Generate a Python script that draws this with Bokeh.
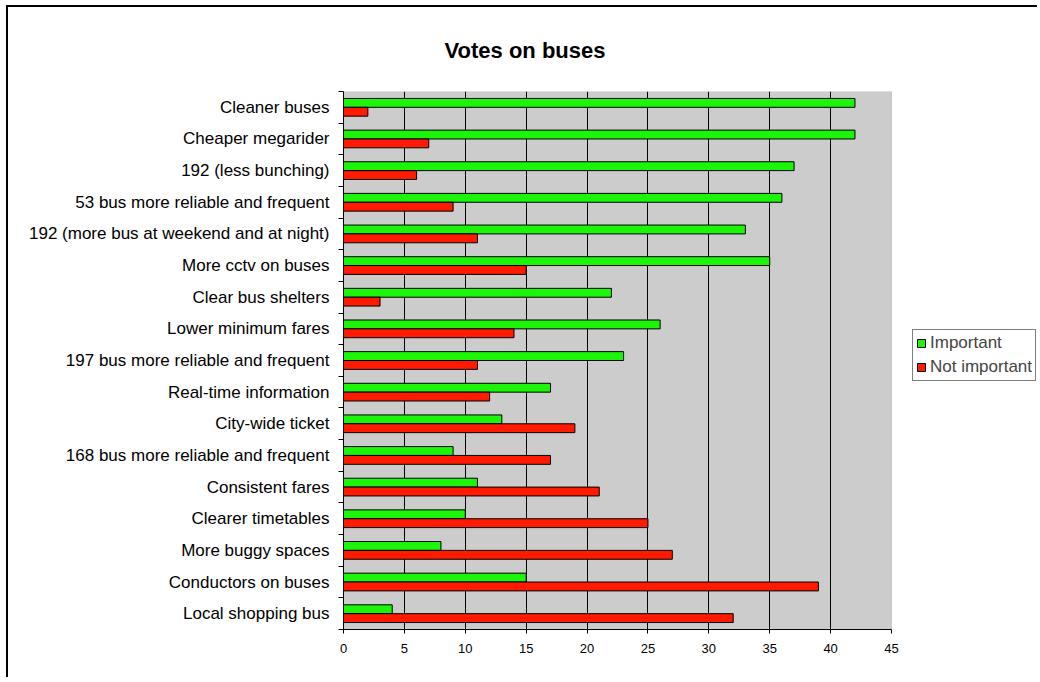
from bokeh.plotting import figure
from bokeh.models import (ColumnDataSource, FixedTicker, Legend, LegendItem,
                          BoxAnnotation)
from bokeh.embed import file_html
from bokeh.resources import INLINE

categories = ["Cleaner buses", "Cheaper megarider", "192 (less bunching)",
              "53 bus more reliable and frequent",
              "192 (more bus at weekend and at night)", "More cctv on buses",
              "Clear bus shelters", "Lower minimum fares",
              "197 bus more reliable and frequent", "Real-time information",
              "City-wide ticket", "168 bus more reliable and frequent",
              "Consistent fares", "Clearer timetables", "More buggy spaces",
              "Conductors on buses", "Local shopping bus"]
important = [42, 42, 37, 36, 33, 35, 22, 26, 23, 17, 13, 9, 11, 10, 8, 15, 4]
not_important = [2, 7, 6, 9, 11, 15, 3, 14, 11, 12, 19, 17, 21, 25, 27, 39, 32]
x_ticks = [0, 5, 10, 15, 20, 25, 30, 35, 40, 45]
series_names = ["Important", "Not important"]
title_text = "Votes on buses"

n = len(categories)
x_max = x_ticks[-1]
centers = [n - i - 0.5 for i in range(n)]
bar_h = 0.28

src = ColumnDataSource(dict(
    cat=categories,
    yi=[c + bar_h / 2 for c in centers],
    yn=[c - bar_h / 2 for c in centers],
    imp=important,
    nimp=not_important,
))

FONT = "Liberation Sans"

# layout (pixels)
W, H = 1031, 672
LEFT, TOP, BOTTOM, RIGHT = 335, 84, 50, 0
AXIS_PX = 548                      # pixel length of the 0..x_max value axis
frame_w = W - LEFT - RIGHT
x_end = x_max * frame_w / AXIS_PX  # frame extends right to hold the legend

p = figure(width=W, height=H, x_range=(0, x_end), y_range=(0, n),
           output_backend="svg", toolbar_location=None,
           min_border_left=LEFT, min_border_right=RIGHT,
           min_border_top=TOP, min_border_bottom=BOTTOM,
           background_fill_color="white", border_fill_color="white")
p.styles = {"margin-left": "6px", "margin-top": "5px",
            "border-left": "2px solid black", "border-top": "2px solid black"}
p.outline_line_color = None

# grey plot area for the value axis
p.add_layout(BoxAnnotation(left=0, right=x_max, bottom=0, top=n,
                           fill_color="#CCCCCC", fill_alpha=1,
                           line_color="#808080", line_width=1,
                           level="image"))

p.title.text = title_text
p.title.align = "left"
p.title.offset = 101
p.title.text_font = FONT
p.title.text_font_size = "22px"
p.title.text_font_style = "bold"
p.title.text_color = "black"
p.title.standoff = 57

g = p.hbar(y="yi", right="imp", left=0, height=bar_h, source=src,
           fill_color="#1CF50A", line_color="black", line_width=1)
r = p.hbar(y="yn", right="nimp", left=0, height=bar_h, source=src,
           fill_color="#FF1A00", line_color="black", line_width=1)

# x axis
p.xaxis.ticker = FixedTicker(ticks=x_ticks)
p.xaxis.bounds = (0, x_max)
p.xaxis.minor_tick_line_color = None
p.xaxis.major_tick_out = 4
p.xaxis.major_tick_in = 0
p.xaxis.axis_line_color = "black"
p.xaxis.major_tick_line_color = "black"
p.xaxis.major_label_text_font = FONT
p.xaxis.major_label_text_font_size = "13px"
p.xaxis.major_label_text_color = "black"
p.xaxis.major_label_standoff = 10

# y axis: labels at centers, ticks at boundaries
p.yaxis.ticker = FixedTicker(ticks=centers, minor_ticks=list(range(n + 1)))
p.yaxis.major_label_overrides = {c: cat for c, cat in zip(centers, categories)}
p.yaxis.major_tick_line_color = None
p.yaxis.major_tick_out = 0
p.yaxis.major_tick_in = 0
p.yaxis.minor_tick_line_color = "black"
p.yaxis.minor_tick_out = 5
p.yaxis.minor_tick_in = 0
p.yaxis.axis_line_color = "black"
p.yaxis.major_label_text_font = FONT
p.yaxis.major_label_text_font_size = "17px"
p.yaxis.major_label_text_color = "black"
p.yaxis.major_label_standoff = 9

p.xgrid.ticker = FixedTicker(ticks=x_ticks[:-1])
p.xgrid.grid_line_color = "black"
p.xgrid.grid_line_width = 1
p.ygrid.grid_line_color = None

legend = Legend(items=[LegendItem(label=series_names[0], renderers=[g]),
                       LegendItem(label=series_names[1], renderers=[r])],
                location=(569, 248))
legend.glyph_width = 10
legend.glyph_height = 10
legend.label_text_font = FONT
legend.label_text_font_size = "17px"
legend.label_standoff = 4
legend.label_height = 18
legend.spacing = 4
legend.padding = 3
legend.margin = 0
legend.border_line_color = "black"
legend.border_line_width = 1
legend.background_fill_alpha = 1
p.add_layout(legend)

open("out.html", "w").write(file_html(p, INLINE))
